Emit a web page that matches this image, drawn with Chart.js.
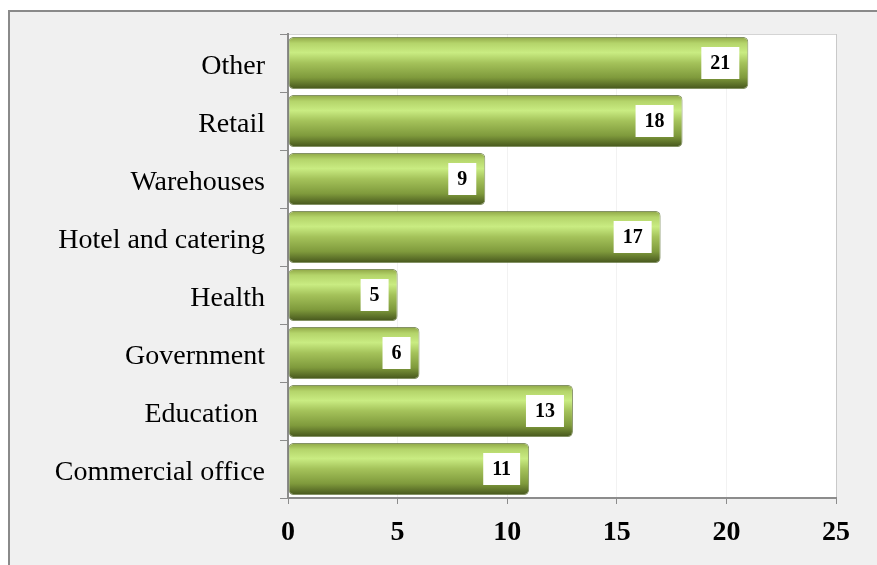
<!DOCTYPE html>
<html>
<head>
<meta charset="utf-8">
<script src="https://cdn.jsdelivr.net/npm/chart.js@4/dist/chart.umd.min.js"></script>
<style>
  html, body { margin: 0; padding: 0; background: #fff; }
  #wrap { width: 877px; height: 565px; position: relative; }
</style>
</head>
<body>
<div id="wrap"><canvas id="barChart" width="877" height="565"></canvas></div>
<script>
var categories = ['Other', 'Retail', 'Warehouses', 'Hotel and catering', 'Health', 'Government', 'Education ', 'Commercial office'];
var counts = [21, 18, 9, 17, 5, 6, 13, 11];
var xTicks = [0, 5, 10, 15, 20, 25];

var serif = '"Liberation Serif", "Times New Roman", serif';
var barPct = 0.9;

// cylinder-like shading across the thickness of each bar
function barFill(c) {
	var chart = c.chart;
	var y = chart.scales.y;
	if (!y || c.dataIndex === undefined) return '#9cb850';
	var mid = y.getPixelForValue(c.dataIndex);
	var half = (y.height / categories.length) * barPct / 2;
	if (!isFinite(mid) || !isFinite(half) || half <= 0) return '#9cb850';
	var g = chart.ctx.createLinearGradient(0, mid - half, 0, mid + half);
	g.addColorStop(0, '#8ea545');
	g.addColorStop(0.12, '#b4d46a');
	g.addColorStop(0.3, '#c9ec82');
	g.addColorStop(0.5, '#a4c25a');
	g.addColorStop(0.78, '#7f9a3c');
	g.addColorStop(1, '#45551c');
	return g;
}

var framePlugin = {
	id: 'frame',
	beforeDraw: function(chart) {
		var ctx = chart.ctx;
		var a = chart.chartArea;
		ctx.save();
		ctx.fillStyle = '#ffffff';
		ctx.fillRect(0, 0, chart.width, chart.height);
		ctx.fillStyle = '#f0f0f0';
		ctx.fillRect(9, 11, chart.width + 20, chart.height + 20);
		ctx.strokeStyle = '#8a8a8a';
		ctx.lineWidth = 2;
		ctx.strokeRect(9, 11, chart.width + 20, chart.height + 20);
		ctx.fillStyle = '#ffffff';
		ctx.fillRect(a.left, a.top, a.right - a.left, a.bottom - a.top);
		ctx.strokeStyle = '#d4d4d4';
		ctx.lineWidth = 1;
		ctx.strokeRect(a.left + 0.5, a.top + 0.5, a.right - a.left, a.bottom - a.top);
		ctx.restore();
	}
};

// white boxes with the value near the end of each bar
var valueBoxes = {
	id: 'valueBoxes',
	afterDatasetsDraw: function(chart) {
		var ctx = chart.ctx;
		var meta = chart.getDatasetMeta(0);
		ctx.save();
		ctx.font = 'bold 20px ' + serif;
		ctx.textAlign = 'center';
		ctx.textBaseline = 'middle';
		meta.data.forEach(function(bar, i) {
			var txt = String(counts[i]);
			var w = ctx.measureText(txt).width + 18;
			var h = 32;
			var right = bar.x - 9;
			ctx.fillStyle = '#ffffff';
			ctx.fillRect(right - w, bar.y - h / 2, w, h);
			ctx.fillStyle = '#000000';
			ctx.fillText(txt, right - w / 2, bar.y + 1);
		});
		ctx.restore();
	}
};

new Chart(document.getElementById('barChart'), {
	type: 'bar',
	data: {
		labels: categories,
		datasets: [{
			data: counts,
			backgroundColor: barFill,
			borderColor: 'rgba(80, 100, 35, 0.7)',
			borderWidth: 1,
			borderRadius: 5,
			borderSkipped: false,
			barPercentage: barPct,
			categoryPercentage: 1
		}]
	},
	options: {
		indexAxis: 'y',
		responsive: false,
		animation: false,
		layout: { padding: { top: 34, right: 41, left: 0, bottom: 0 } },
		plugins: {
			legend: { display: false },
			tooltip: { enabled: false }
		},
		scales: {
			x: {
				min: 0,
				max: 25,
				afterBuildTicks: function(s) { s.ticks = xTicks.map(function(v) { return { value: v }; }); },
				afterFit: function(s) { s.height = 67; },
				grid: { color: 'rgba(0,0,0,0.05)', tickColor: '#8c8c8c', tickLength: 6 },
				border: { color: '#8c8c8c', width: 2 },
				ticks: { color: '#000', padding: 12, font: { family: serif, size: 28, weight: 'bold' } }
			},
			y: {
				afterFit: function(s) { s.width = 288; },
				grid: { drawOnChartArea: false, offset: true, tickColor: '#8c8c8c', tickLength: 8 },
				border: { color: '#8c8c8c', width: 2 },
				ticks: { color: '#000', padding: 15, labelOffset: 4, font: { family: serif, size: 28 } }
			}
		}
	},
	plugins: [framePlugin, valueBoxes]
});
</script>
</body>
</html>
